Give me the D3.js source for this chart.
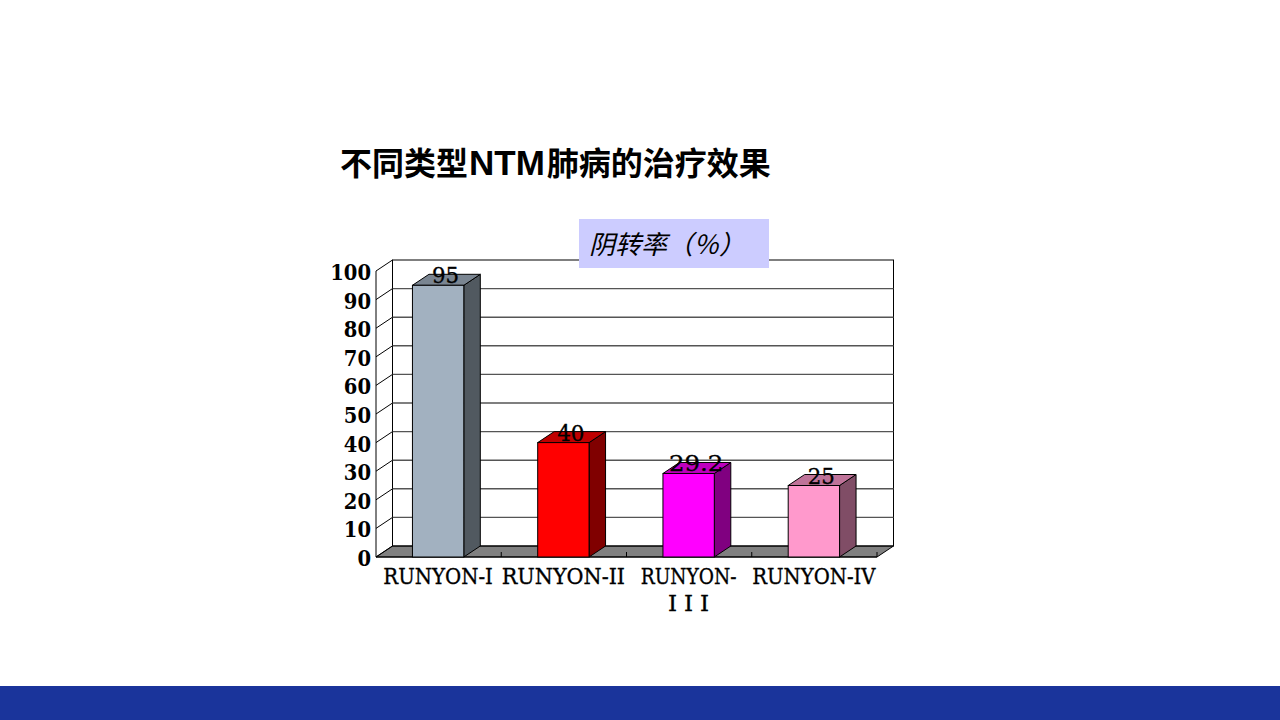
<!DOCTYPE html>
<html>
<head>
    <meta charset="utf-8">
    <title>不同类型NTM肺病的治疗效果</title>
    <script src="https://cdnjs.cloudflare.com/ajax/libs/d3/7.8.5/d3.min.js"></script>
    <style>
        html, body { margin: 0; padding: 0; background: #fff; overflow: hidden; }
        svg { display: block; }
    </style>
</head>
<body>
    <svg id="chart" width="1280" height="720"></svg>
    <script>
        const titleParts = ["不同类型", "NTM", "肺病的治疗效果"];
        const legendText = "阴转率（％）";
        const categories = ["RUNYON-I", "RUNYON-II", "RUNYON-III", "RUNYON-IV"];
        const values = [95, 40, 29.2, 25];
        const valueLabels = ["95", "40", "29.2", "25"];
        const yTicks = [0, 10, 20, 30, 40, 50, 60, 70, 80, 90, 100];
        const frontColors = ["#a2b1c0", "#ff0000", "#ff00ff", "#ff99cc"];
        const topColors = ["#7a8591", "#bf0000", "#bf00bf", "#bf7399"];
        const sideColors = ["#515960", "#800000", "#800080", "#804d66"];

        const svg = d3.select("#chart");
        const depthX = 16.5, depthY = -11;
        const serif = "'DejaVu Serif'";

        const x = d3.scaleBand().domain(categories).range([376, 877]);
        const y = d3.scaleLinear().domain([0, 100]).range([557, 271]);
        const barWidth = x.bandwidth() * 0.41;
        const barLeft = i => x(categories[i]) + (x.bandwidth() - barWidth) / 2 - 0.5;

        // bottom band and title
        svg.append("rect").attr("x", 0).attr("y", 686).attr("width", 1280).attr("height", 34).attr("fill", "#1a349b");
        const title = svg.append("text").attr("x", 340).attr("y", 175)
            .attr("font-family", "'Noto Sans CJK SC'").attr("font-weight", 700).attr("font-size", 32);
        title.append("tspan").text(titleParts[0]);
        title.append("tspan").attr("font-family", "'Liberation Sans'").attr("font-size", 35).attr("dx", 1).text(titleParts[1]);
        title.append("tspan").attr("dx", 2).text(titleParts[2]);

        // floor
        svg.append("path")
            .attr("d", `M${x.range()[0]},${y(0)}l${depthX},${depthY}H${x.range()[1] + depthX}l${-depthX},${-depthY}Z`)
            .attr("fill", "#808080").attr("stroke", "#000");

        // back wall + left wall
        svg.append("rect")
            .attr("x", x.range()[0] + depthX).attr("y", y(100) + depthY)
            .attr("width", x.range()[1] - x.range()[0]).attr("height", y(0) - y(100))
            .attr("fill", "none").attr("stroke", "#000");

        svg.append("line")
            .attr("x1", x.range()[0]).attr("x2", x.range()[0])
            .attr("y1", y(0)).attr("y2", y(100)).attr("stroke", "#000");

        yTicks.forEach(t => {
            if (t > 0 && t < 100) {
                svg.append("line")
                    .attr("x1", x.range()[0] + depthX).attr("x2", x.range()[1] + depthX)
                    .attr("y1", y(t) + depthY).attr("y2", y(t) + depthY)
                    .attr("stroke", "#555").attr("stroke-width", 1.4);
            }
            svg.append("line")
                .attr("x1", x.range()[0]).attr("x2", x.range()[0] + depthX)
                .attr("y1", y(t)).attr("y2", y(t) + depthY)
                .attr("stroke", "#000");
            svg.append("text")
                .attr("x", 371).attr("y", y(t) + 9)
                .attr("text-anchor", "end")
                .attr("font-family", serif).attr("font-weight", 700).attr("font-size", 23)
                .attr("textLength", String(t).length * 13.6).attr("lengthAdjust", "spacingAndGlyphs")
                .text(t);
        });

        // small ticks on the floor between categories
        categories.forEach(c => {
            svg.append("line")
                .attr("x1", x(c) + x.bandwidth()).attr("x2", x(c) + x.bandwidth())
                .attr("y1", y(0)).attr("y2", y(0) - 5)
                .attr("stroke", "#000");
        });
        svg.append("line")
            .attr("x1", x.range()[0]).attr("x2", x.range()[1])
            .attr("y1", y(0)).attr("y2", y(0)).attr("stroke", "#000");

        // legend box sits on top of the wall
        svg.append("rect").attr("x", 579).attr("y", 219).attr("width", 190).attr("height", 49).attr("fill", "#ccccff");
        svg.append("text").attr("x", 589).attr("y", 254)
            .attr("font-family", "'Noto Sans CJK SC'").attr("font-style", "italic").attr("font-size", 26)
            .text(legendText);

        // bars
        const bars = svg.selectAll(".bar").data(values).join("g").attr("class", "bar");

        bars.append("path")
            .attr("d", (d, i) => `M${barLeft(i) + barWidth},${y(0)}l${depthX},${depthY}V${y(d) + depthY}l${-depthX},${-depthY}Z`)
            .attr("fill", (d, i) => sideColors[i]).attr("stroke", "#000");

        bars.append("path")
            .attr("d", (d, i) => `M${barLeft(i)},${y(d)}l${depthX},${depthY}h${barWidth}l${-depthX},${-depthY}Z`)
            .attr("fill", (d, i) => topColors[i]).attr("stroke", "#000");

        bars.append("rect")
            .attr("x", (d, i) => barLeft(i)).attr("y", d => y(d))
            .attr("width", barWidth).attr("height", d => y(0) - y(d))
            .attr("fill", (d, i) => frontColors[i]).attr("stroke", "#000");

        bars.append("text")
            .attr("x", (d, i) => barLeft(i) + barWidth / 2 + 7.5).attr("y", d => y(d) - 2)
            .attr("text-anchor", "middle")
            .attr("font-family", serif).attr("font-size", 23)
            .attr("stroke", "#000").attr("stroke-width", 0.35)
            .attr("textLength", (d, i) => valueLabels[i].length * 13.6).attr("lengthAdjust", "spacingAndGlyphs")
            .text((d, i) => valueLabels[i]);

        // category labels, the third one wraps at the hyphen
        categories.forEach(c => {
            const lines = c === "RUNYON-III" ? ["RUNYON-", "III"] : [c];
            lines.forEach((line, k) => {
                svg.append("text")
                    .attr("x", x(c) + x.bandwidth() / 2 - 0.5).attr("y", 584 + k * 27)
                    .attr("text-anchor", "middle")
                    .attr("font-family", serif).attr("font-size", 23)
                    .attr("stroke", "#000").attr("stroke-width", 0.35)
                    .attr("textLength", line.length * 13.7)
                    .attr("lengthAdjust", line === "III" ? "spacing" : "spacingAndGlyphs")
                    .text(line);
            });
        });
    </script>
</body>
</html>
